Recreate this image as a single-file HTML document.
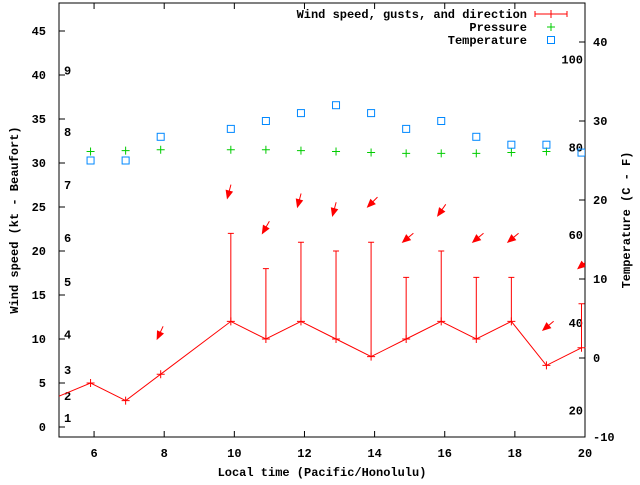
<!DOCTYPE html>
<html><head><meta charset="utf-8"><style>
body{margin:0;background:#fff}
svg text{font-family:"Liberation Mono","DejaVu Sans Mono",monospace;font-size:12px;font-weight:bold;fill:#000}
</style></head><body>
<svg id="c" width="640" height="480" xmlns="http://www.w3.org/2000/svg"></svg>
<script>
const times=[5.9,6.9,7.9,9.9,10.9,11.9,12.9,13.9,14.9,15.9,16.9,17.9,18.9,19.9];
const windSpeed=[5,3,6,12,10,12,10,8,10,12,10,12,7,9];
const windGust=[null,null,null,22,18,21,20,21,17,20,17,17,null,14];
const arrowX=[7.8,9.8,10.8,11.8,12.8,13.8,14.8,15.8,16.8,17.8,18.8,19.8];
const arrowY=[10,26,22,25,24,25,21,24,21,21,11,18];
const arrowDir=[245,255,240,255,255,225,220,235,220,220,220,220];
const pressTimes=[5.9,6.9,7.9,9.9,10.9,11.9,12.9,13.9,14.9,15.9,16.9,17.9,18.9];
const pressure=[31.3,31.4,31.5,31.5,31.5,31.4,31.3,31.2,31.1,31.1,31.1,31.2,31.3];
const tempC=[25,25,28,29,30,31,32,31,29,30,28,27,27,26];
const xTicks=[6,8,10,12,14,16,18,20];
const yTicks=[0,5,10,15,20,25,30,35,40,45];
const y2Ticks=[-10,0,10,20,30,40];
const beaufort=[1,2,3,4,5,6,7,8,9];
const beaufortKt=[1,3.5,6.5,10.5,16.5,21.5,27.5,33.5,40.5];
const fTicks=[20,40,60,80,100];
const L=59,R=585,T=3,B=437;
const X=v=>L+(v-5)*(R-L)/15;
const Y=v=>427-v*8.8;
const Y2=c=>358-c*7.9;
const svg=document.getElementById('c');
function el(t,a,txt){const e=document.createElementNS('http://www.w3.org/2000/svg',t);for(const k in a)e.setAttribute(k,a[k]);if(txt!==undefined)e.textContent=txt;svg.appendChild(e);return e;}
let e;
e=el('rect',{x:L,y:T,width:R-L,height:B-T,fill:'none',stroke:'#000','stroke-width':1});


xTicks.forEach(v=>{
 e=el('line',{x1:X(v),x2:X(v),y1:B,y2:B-6,stroke:'#000'});
 
 
 e=el('line',{x1:X(v),x2:X(v),y1:T,y2:T+6,stroke:'#000'});
 
 
 e=el('text',{x:X(v),y:B+20,'text-anchor':'middle'},v);
 
 
});
yTicks.forEach(v=>{
 e=el('line',{x1:L,x2:L+6,y1:Y(v),y2:Y(v),stroke:'#000'});
 
 
 e=el('text',{x:L-13,y:Y(v)+4,'text-anchor':'end'},v);
 
 
});
y2Ticks.forEach(v=>{
 e=el('line',{x1:R,x2:R-6,y1:Y2(v),y2:Y2(v),stroke:'#000'});
 
 
 e=el('text',{x:R+8,y:Y2(v)+4},v);
 
 
});
beaufort.forEach((b,i)=>{
 e=el('text',{x:64,y:Y(beaufortKt[i])+4},b);
 
 
});
fTicks.forEach(f=>{
 e=el('text',{x:583,y:Y2((f-32)/1.8)+4,'text-anchor':'end'},f);
 
 
});
e=el('text',{x:(L+R)/2,y:476,'text-anchor':'middle'},'Local time (Pacific/Honolulu)');


e=el('text',{x:0,y:0,'text-anchor':'middle',transform:'translate(18,220) rotate(-90)'},'Wind speed (kt - Beaufort)');


e=el('text',{x:0,y:0,'text-anchor':'middle',transform:'translate(630,220) rotate(-90)'},'Temperature (C - F)');


// clip
const d=el('defs',{});const cp=document.createElementNS('http://www.w3.org/2000/svg','clipPath');cp.setAttribute('id','cl');const cr=document.createElementNS('http://www.w3.org/2000/svg','rect');cr.setAttribute('x',L);cr.setAttribute('y',T);cr.setAttribute('width',R-L);cr.setAttribute('height',B-T);cp.appendChild(cr);d.appendChild(cp);
// wind line incl extrapolated start
let pts=[[X(5),Y(3.5)]].concat(times.map((t,i)=>[X(t),Y(windSpeed[i])]));
e=el('polyline',{points:pts.map(p=>p.join(',')).join(' '),fill:'none',stroke:'#f00','stroke-width':1});


times.forEach((t,i)=>{
 const x=X(t),y=Y(windSpeed[i]);
 e=el('path',{d:`M${x-4},${y}H${x+4}M${x},${y-4}V${y+4}`,stroke:'#f00'});
 
 
 if(windGust[i]!==null){
  const g=Y(windGust[i]);
  e=el('path',{d:`M${x},${y}V${g}M${x-3},${g}H${x+3}`,stroke:'#f00'});
  
  
 }
});
arrowX.forEach((t,i)=>{
 const x=X(t),y=Y(arrowY[i]);const a=arrowDir[i]*Math.PI/180;
 const tx=x-Math.cos(a)*14,ty=y+Math.sin(a)*14;
 const ang=Math.atan2(y-ty,x-tx);
 const h1=[x-8*Math.cos(ang-0.4),y-8*Math.sin(ang-0.4)],h2=[x-8*Math.cos(ang+0.4),y-8*Math.sin(ang+0.4)];
 e=el('path',{d:`M${tx},${ty}L${x},${y}M${x},${y}L${h1}L${h2}Z`,stroke:'#f00',fill:'#f00','clip-path':'url(#cl)'});
 
 
});
pressTimes.forEach((t,i)=>{
 const x=X(t),y=Y(pressure[i]);
 e=el('path',{d:`M${x-4},${y}H${x+4}M${x},${y-4}V${y+4}`,stroke:'#0c0'});
 
 
});
times.forEach((t,i)=>{
 const x=X(t),y=Y2(tempC[i]);
 e=el('rect',{x:x-3.5,y:y-3.5,width:7,height:7,fill:'none',stroke:'#08f','clip-path':'url(#cl)'});
 
 
});
// legend
const leg=[['Wind speed, gusts, and direction',14,'#f00'],['Pressure',27,'#0c0'],['Temperature',40,'#08f']];
leg.forEach((l,i)=>{
 e=el('text',{x:527,y:l[1]+4,'text-anchor':'end'},l[0]);
 
 
 let p;
 if(i==0)p=el('path',{d:`M535,${l[1]}H567M535,${l[1]-3}V${l[1]+3}M567,${l[1]-3}V${l[1]+3}M551,${l[1]-4}V${l[1]+4}`,stroke:l[2]});
 else if(i==1)p=el('path',{d:`M547,${l[1]}H555M551,${l[1]-4}V${l[1]+4}`,stroke:l[2]});
 else p=el('rect',{x:547.5,y:l[1]-3.5,width:7,height:7,fill:'none',stroke:l[2]});
 
 
});
</script>
</body></html>
